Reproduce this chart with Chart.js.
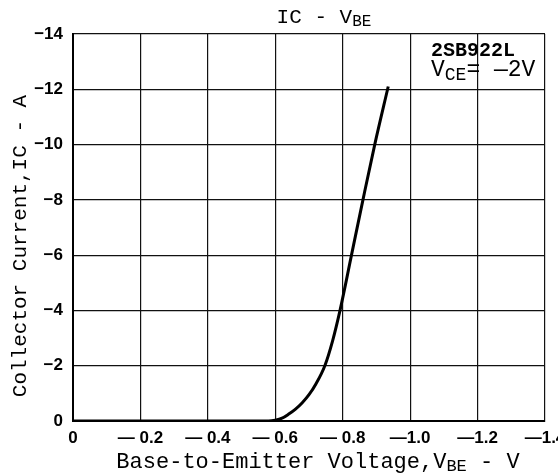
<!DOCTYPE html>
<html>
<head>
<meta charset="utf-8">
<script src="https://cdn.jsdelivr.net/npm/chart.js@4.4.1/dist/chart.umd.min.js"></script>
<style>
  html, body { margin: 0; padding: 0; background: #fff; }
  #wrap { width: 558px; height: 476px; position: relative; }
</style>
</head>
<body>
<div id="wrap"><canvas id="myChart" width="558" height="476"></canvas></div>
<script>
// curve
var vbe = [0, -0.58, -0.60, -0.62, -0.64, -0.66, -0.68, -0.70, -0.72, -0.747, -0.77, -0.792, -0.826, -0.86, -0.895, -0.935];
var ic  = [0, 0, 0.03, 0.1, 0.25, 0.43, 0.66, 0.95, 1.33, 2.0, 2.9, 4.0, 6.0, 8.0, 10.0, 12.1].map(v => -v);

var xTicks = [0, -0.2, -0.4, -0.6, -0.8, -1.0, -1.2, -1.4];
var xTickLabels = ['0', '\u2014 0.2', '\u2014 0.4', '\u2014 0.6', '\u2014 0.8', '\u20141.0', '\u20141.2', '\u20141.4'];
var yTicks = [0, -2, -4, -6, -8, -10, -12, -14];
var yTickLabels = ['0', '\u22122', '\u22124', '\u22126', '\u22128', '\u221210', '\u221212', '\u221214'];

var mono = "'Liberation Mono', 'DejaVu Sans Mono', monospace";
var sans = "'Liberation Sans', Arial, sans-serif";

function lookup(ticks, labels, value) {
	for (var i = 0; i < ticks.length; i++) {
		if (Math.abs(ticks[i] - value) < 1e-6) return labels[i];
	}
	return '';
}

// draws a run of pieces, some of them subscript
function drawRuns(ctx, runs, x, y, size, align) {
	var fontOf = r => (r.bold ? 'bold ' : '') + (r.sub ? Math.round(size * 0.78) : size) + 'px ' + mono;
	var widths = runs.map(r => {
		ctx.font = fontOf(r);
		return ctx.measureText(r.t).width;
	});
	var total = widths.reduce((a, b) => a + b, 0);
	var cx = align === 'center' ? x - total / 2 : x;
	runs.forEach((r, i) => {
		ctx.font = fontOf(r);
		ctx.fillText(r.t, cx, y + (r.sub ? size * 0.22 : 0));
		cx += widths[i];
	});
}

var textPlugin = {
	id: 'textPlugin',
	afterDraw: function(chart) {
		var ctx = chart.ctx;
		ctx.save();
		ctx.fillStyle = '#000';
		ctx.textAlign = 'left';
		ctx.textBaseline = 'middle';
		// title
		drawRuns(ctx, [{t: 'IC - V'}, {t: 'BE', sub: true}], 324, 17, 21, 'center');
		// device note
		drawRuns(ctx, [{t: '2SB922L', bold: true}], 431, 51, 20, 'left');
		drawRuns(ctx, [{t: 'V'}, {t: 'CE', sub: true}, {t: '= \u20142V'}], 431, 70, 23, 'left');
		// x title
		drawRuns(ctx, [{t: 'Base-to-Emitter Voltage,V'}, {t: 'BE', sub: true}, {t: ' - V'}], 318, 462, 22, 'center');
		// y title
		ctx.translate(20, 246);
		ctx.rotate(-Math.PI / 2);
		drawRuns(ctx, [{t: 'Collector Current,IC - A'}], 0, 0, 21, 'center');
		ctx.restore();
	}
};

var ctx = document.getElementById('myChart').getContext('2d');
var chart = new Chart(ctx, {
	type: 'scatter',
	data: {
		datasets: [{
			data: vbe.map((v, i) => ({x: v, y: ic[i]})),
			showLine: true,
			borderColor: '#000',
			borderWidth: 3,
			pointRadius: 0,
			cubicInterpolationMode: 'monotone'
		}]
	},
	options: {
		responsive: false,
		animation: false,
		layout: { padding: { top: 34, right: 13, left: 0, bottom: 0 } },
		plugins: { legend: { display: false }, tooltip: { enabled: false } },
		scales: {
			x: {
				type: 'linear',
				min: -1.4,
				max: 0,
				reverse: true,
				afterBuildTicks: function(scale) { scale.ticks = xTicks.map(v => ({value: v})); },
				afterFit: function(scale) { scale.height = 55; scale.paddingLeft = 0; scale.paddingRight = 0; },
				ticks: {
					color: '#000',
					padding: 7,
					maxRotation: 0,
					font: { family: sans, size: 17, weight: 'bold' },
					callback: function(value) { return lookup(xTicks, xTickLabels, value); }
				},
				grid: { color: '#111', lineWidth: 1.2, drawTicks: false },
				border: { color: '#000', width: 2 }
			},
			y: {
				type: 'linear',
				min: -14,
				max: 0,
				reverse: true,
				afterBuildTicks: function(scale) { scale.ticks = yTicks.map(v => ({value: v})); },
				afterFit: function(scale) { scale.width = 73; scale.paddingTop = 0; scale.paddingBottom = 0; },
				ticks: {
					color: '#000',
					padding: 10,
					font: { family: sans, size: 17, weight: 'bold' },
					callback: function(value) { return lookup(yTicks, yTickLabels, value); }
				},
				grid: { color: '#111', lineWidth: 1.2, drawTicks: false },
				border: { color: '#000', width: 2 }
			}
		}
	},
	plugins: [textPlugin]
});
</script>
</body>
</html>
